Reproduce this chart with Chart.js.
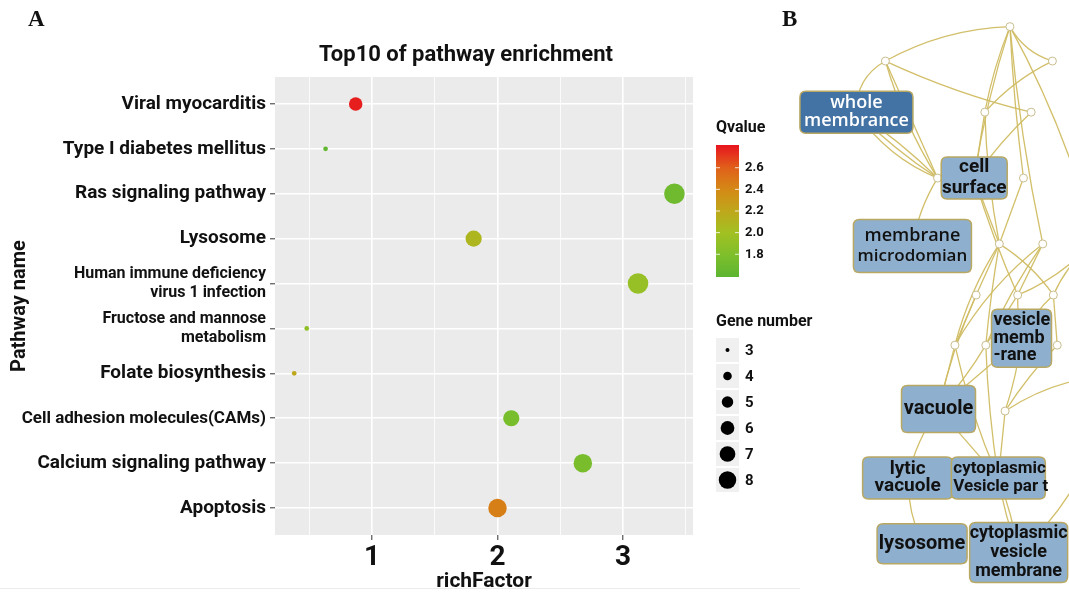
<!DOCTYPE html>
<html>
<head>
<meta charset="utf-8">
<script src="https://cdn.jsdelivr.net/npm/chart.js@4.4.1/dist/chart.umd.min.js"></script>
<style>
  html, body { margin: 0; padding: 0; background: #fff; }
  body { width: 1069px; height: 594px; position: relative; overflow: hidden; }
  #chartA { position: absolute; left: 0; top: 0; }
  #chartB { position: absolute; left: 780px; top: 0; }
  .panel { position: absolute; font-family: 'Liberation Serif', 'Times New Roman', serif; font-weight: bold; font-size: 23px; color: #111; }
  #bottomLine { position: absolute; left: 0; top: 588px; width: 800px; height: 1px; background: #ececec; }
</style>
</head>
<body>
<canvas id="chartA" width="820" height="594"></canvas>
<canvas id="chartB" width="289" height="594"></canvas>
<div class="panel" style="left:28px;top:6px;">A</div>
<div class="panel" style="left:782px;top:6px;">B</div>
<div id="bottomLine"></div>
<script>
// ---- panel A data ----
const pathways = [
    "Viral myocarditis",
    "Type I diabetes mellitus",
    "Ras signaling pathway",
    "Lysosome",
    ["Human immune deficiency", "virus 1 infection"],
    ["Fructose and mannose", "metabolism"],
    "Folate biosynthesis",
    "Cell adhesion molecules(CAMs)",
    "Calcium signaling pathway",
    "Apoptosis"
];
const richFactor = [0.87, 0.63, 3.41, 1.81, 3.12, 0.48, 0.38, 2.11, 2.68, 2.00];
const qvalue     = [2.78, 1.63, 1.70, 2.08, 1.93, 1.89, 2.20, 1.75, 1.76, 2.45];
const geneNumber = [5, 3, 8, 6, 8, 3, 3, 6, 7, 7];
const xTicks = [1, 2, 3];
const qTicks = [1.8, 2.0, 2.2, 2.4, 2.6];
const geneTicks = [3, 4, 5, 6, 7, 8];

// ---- panel B data (GO network) ----
const nodeIds = ["n1","n2","n3","n4","n5","n6","n7","n8","n9","n10","n11","n12","n13","n14","n15","n16"];
const nodeX = [1013, 884, 1057, 987, 1035, 938, 1027, 1002, 1047, 978, 1021, 1058, 956, 988, 1062, 1008];
const nodeY = [22, 57, 57, 109, 109, 176, 176, 243, 243, 295, 295, 295, 346, 346, 346, 413];
const edgeIds = ["x1", "x2", "x3", "x4"];
const edgeX = [1090, 1090, 1090, 1090];
const edgeY = [200, 250, 380, 470];
const boxIds = ["WM", "CS", "MM", "VM", "VA", "LV", "CV", "LY", "CM"];
const boxLabels = [
    ["whole", "membrance"],
    ["cell", "surface"],
    ["membrane", "microdomian"],
    ["vesicle", "memb", "-rane"],
    ["vacuole"],
    ["lytic", "vacuole"],
    ["cytoplasmic", "Vesicle par t"],
    ["lysosome"],
    ["cytoplasmic", "vesicle", "membrane"]
];
const boxX = [854, 976, 912, 1025, 939, 907, 1001, 922, 1022];
const boxY = [109, 176, 245, 339, 411, 481, 481, 548, 557];
const links = [
    ["n1","n2"], ["n1","n3"], ["n1","n4"], ["n1","CS"], ["n1","n7"], ["n1","n9"], ["n1","x1"],
    ["n2","n5"], ["n2","n6"], ["n2","n6"], ["n2","WM"], ["WM","n6"], ["WM","n6"], ["WM","n6"],
    ["n3","n4"], ["n4","CS"], ["n4","n8"], ["n5","CS"], ["n6","MM"], ["n7","n8"], ["CS","n8"],
    ["CS","n11"], ["n8","n10"], ["n8","n13"], ["n8","n14"], ["n8","n12"], ["n9","n11"], ["n9","n13"],
    ["n9","n14"], ["x2","n12"], ["x2","n11"], ["n10","n13"], ["n10","VA"], ["n11","n14"], ["n11","VM"],
    ["n12","n15"], ["n12","VM"], ["n13","VA"], ["n14","VA"], ["n14","CV"], ["n15","n16"], ["VM","VA"],
    ["VM","n16"], ["n16","CV"], ["VA","LV"], ["VA","CV"], ["CV","CM"], ["CV","CM"], ["LV","LY"],
    ["x3","n16"], ["x4","CM"], ["n13","CV"], ["n6","CS"]
];

// ---- styles / layout ----
const FONT = "'Liberation Sans Narrow', 'Arial Narrow', Roboto, sans-serif";
const qMin = 1.59, qMax = 2.81;
const qStops = [
    [0, [92, 181, 49]], [0.17, [127, 191, 43]], [0.34, [163, 192, 33]], [0.5, [191, 167, 27]],
    [0.66, [212, 138, 22]], [0.83, [224, 95, 26]], [1, [232, 19, 31]]
];
const linkBend = [0.12, 0.2, 0.05, 0.04, 0.02, 0.03, -0.05, 0.05, 0, 0.07, 0.3, 0.05, -0.05, 0.15,
    0.1, 0, 0.04, 0.05, 0.1, 0, 0, 0.03, 0, 0.08, 0.02, -0.1, 0, 0.1, 0.05, 0.1, -0.1, 0, 0.05, 0,
    0.05, 0, 0.1, 0, -0.05, 0.03, 0.05, 0, -0.05, 0, 0.1, 0, 0.05, -0.05, 0.1, 0.1, -0.1, 0.05, 0.1];
const boxW = [113, 66, 118, 60, 74, 90, 94, 90, 98];
const boxH = [42, 42, 53, 58, 47, 42, 42, 40, 60];
const boxLine = [18, 21, 20, 17.5, 20, 17, 18, 20, 19];
const boxSize = [18, 19, 18, 18, 20, 19, 17, 20, 18];

function qColor(q) {
    let t = Math.min(1, Math.max(0, (q - qMin) / (qMax - qMin)));
    for (let i = 1; i < qStops.length; i++) {
        if (t <= qStops[i][0]) {
            let a = qStops[i - 1], b = qStops[i];
            let f = (t - a[0]) / (b[0] - a[0]);
            let c = a[1].map((v, k) => Math.round(v + (b[1][k] - v) * f));
            return "rgb(" + c.join(",") + ")";
        }
    }
    return "rgb(232,19,31)";
}

// point area grows linearly with gene number
function geneRadius(g) {
    return 0.5 * Math.sqrt(22 + (g - 3) / 5 * 400);
}

const panelPlugin = {
    id: "panel",
    beforeDraw(chart) {
        let { ctx, chartArea: a } = chart;
        ctx.save();
        ctx.fillStyle = "#ebebeb";
        ctx.fillRect(a.left, a.top, a.right - a.left, a.bottom - a.top);
        ctx.restore();
    },
    afterDraw(chart) {
        let ctx = chart.ctx;
        ctx.save();
        ctx.fillStyle = "#111";
        ctx.textBaseline = "middle";
        ctx.textAlign = "center";
        ctx.font = "bold 22px " + FONT;
        ctx.fillText("Top10 of pathway enrichment", 466, 55);

        // Qvalue colour bar
        ctx.textAlign = "left";
        ctx.font = "bold 16px " + FONT;
        ctx.fillText("Qvalue", 716, 128);
        let top = 145, bottom = 277, left = 716, w = 23;
        let grad = ctx.createLinearGradient(0, bottom, 0, top);
        qStops.forEach(s => grad.addColorStop(s[0], "rgb(" + s[1].join(",") + ")"));
        ctx.fillStyle = grad;
        ctx.fillRect(left, top, w, bottom - top);
        ctx.font = "bold 13px " + FONT;
        qTicks.forEach(v => {
            let y = bottom - (v - qMin) / (qMax - qMin) * (bottom - top);
            ctx.strokeStyle = "rgba(255,255,255,0.8)";
            ctx.lineWidth = 1;
            ctx.beginPath();
            ctx.moveTo(left, y); ctx.lineTo(left + 4, y);
            ctx.moveTo(left + w - 4, y); ctx.lineTo(left + w, y);
            ctx.stroke();
            ctx.fillStyle = "#111";
            ctx.fillText(v.toFixed(1), left + w + 6, y);
        });

        // Gene number size keys
        ctx.font = "bold 16px " + FONT;
        ctx.fillText("Gene number", 716, 322);
        ctx.font = "bold 15px " + FONT;
        geneTicks.forEach((g, i) => {
            let cy = 350 + i * 26;
            ctx.fillStyle = "#f0f0f0";
            ctx.fillRect(716, cy - 12, 23, 24);
            ctx.fillStyle = "#000";
            ctx.beginPath();
            ctx.arc(727.5, cy, geneRadius(g) * 0.85, 0, Math.PI * 2);
            ctx.fill();
            ctx.fillStyle = "#111";
            ctx.fillText(String(g), 745, cy + 1);
        });
        ctx.restore();
    }
};

new Chart(document.getElementById("chartA"), {
    type: "scatter",
    data: {
        datasets: [{
            data: richFactor.map((x, i) => ({ x: x, y: i })),
            pointRadius: c => geneRadius(geneNumber[c.dataIndex]),
            pointHoverRadius: c => geneRadius(geneNumber[c.dataIndex]),
            pointBackgroundColor: c => qColor(qvalue[c.dataIndex]),
            pointBorderWidth: 0
        }]
    },
    options: {
        responsive: false,
        animation: false,
        events: [],
        layout: { padding: { top: 77, right: 127, bottom: 0, left: 0 } },
        plugins: { legend: { display: false }, tooltip: { enabled: false }, title: { display: false } },
        scales: {
            x: {
                type: "linear",
                min: 0.227,
                max: 3.558,
                afterFit: s => { s.height = 59; },
                border: { display: false },
                grid: {
                    color: "#fff",
                    lineWidth: c => (c.tick && Number.isInteger(c.tick.value)) ? 1.6 : 0.8,
                    tickColor: c => (c.tick && Number.isInteger(c.tick.value)) ? "#333" : "rgba(0,0,0,0)",
                    tickLength: 5,
                    tickWidth: 1
                },
                ticks: {
                    stepSize: 0.5,
                    includeBounds: false,
                    autoSkip: false,
                    maxRotation: 0,
                    callback: v => xTicks.includes(v) ? String(v) : "",
                    color: "#111",
                    font: { family: FONT, weight: "bold", size: 28 },
                    padding: 1
                },
                title: {
                    display: true,
                    text: "richFactor",
                    color: "#111",
                    font: { family: FONT, weight: "bold", size: 21 },
                    padding: { top: 0, bottom: 0 }
                }
            },
            y: {
                type: "linear",
                min: -0.6,
                max: 9.6,
                reverse: true,
                afterFit: s => { s.width = 275; },
                border: { display: false },
                grid: { color: "#fff", lineWidth: 1.6, tickColor: "#333", tickLength: 5, tickWidth: 1 },
                ticks: {
                    stepSize: 1,
                    includeBounds: false,
                    autoSkip: false,
                    callback: v => pathways[v],
                    color: "#111",
                    font: c => {
                        let p = c.tick ? pathways[c.tick.value] : "";
                        let size = Array.isArray(p) ? 16 : (p && p.length > 25 ? 17 : 19);
                        return { family: FONT, weight: "bold", size: size };
                    },
                    padding: 4
                },
                title: {
                    display: true,
                    text: "Pathway name",
                    color: "#111",
                    font: { family: FONT, weight: "bold", size: 20 },
                    padding: { top: 8, bottom: 0 }
                }
            }
        }
    },
    plugins: [panelPlugin]
});

// ---- panel B ----
function findPos(id) {
    let i = nodeIds.indexOf(id);
    if (i >= 0) return [nodeX[i], nodeY[i]];
    i = boxIds.indexOf(id);
    if (i >= 0) return [boxX[i], boxY[i]];
    i = edgeIds.indexOf(id);
    return [edgeX[i], edgeY[i]];
}

function roundBox(ctx, x, y, w, h, r) {
    ctx.beginPath();
    ctx.moveTo(x + r, y);
    ctx.lineTo(x + w - r, y);
    ctx.quadraticCurveTo(x + w, y, x + w, y + r);
    ctx.lineTo(x + w, y + h - r);
    ctx.quadraticCurveTo(x + w, y + h, x + w - r, y + h);
    ctx.lineTo(x + r, y + h);
    ctx.quadraticCurveTo(x, y + h, x, y + h - r);
    ctx.lineTo(x, y + r);
    ctx.quadraticCurveTo(x, y, x + r, y);
    ctx.closePath();
}

const networkPlugin = {
    id: "network",
    beforeDatasetsDraw(chart) {
        let { ctx, scales: { x, y } } = chart;
        ctx.save();
        ctx.strokeStyle = "rgba(208,188,98,0.95)";
        ctx.lineWidth = 1.3;
        links.forEach((l, i) => {
            let a = findPos(l[0]), b = findPos(l[1]);
            let x1 = x.getPixelForValue(a[0]), y1 = y.getPixelForValue(a[1]);
            let x2 = x.getPixelForValue(b[0]), y2 = y.getPixelForValue(b[1]);
            let dx = x2 - x1, dy = y2 - y1;
            let bend = linkBend[i] || 0;
            let cx = (x1 + x2) / 2 - dy * bend, cy = (y1 + y2) / 2 + dx * bend;
            ctx.beginPath();
            ctx.moveTo(x1, y1);
            ctx.quadraticCurveTo(cx, cy, x2, y2);
            ctx.stroke();
        });
        ctx.restore();
    },
    afterDatasetsDraw(chart) {
        let { ctx, scales: { x, y } } = chart;
        ctx.save();
        boxIds.forEach((id, i) => {
            let cx = x.getPixelForValue(boxX[i]), cy = y.getPixelForValue(boxY[i]);
            let w = boxW[i], h = boxH[i];
            roundBox(ctx, cx - w / 2, cy - h / 2, w, h, 6);
            ctx.fillStyle = id === "WM" ? "#4373a4" : "#8eafcd";
            ctx.fill();
            ctx.strokeStyle = "#b9a862";
            ctx.lineWidth = 1.5;
            ctx.stroke();
            let lines = boxLabels[i];
            let open = id === "WM" || id === "MM";
            ctx.fillStyle = id === "WM" ? "#fff" : "#111";
            ctx.textBaseline = "middle";
            let leftAlign = id === "VM" || id === "CV";
            ctx.textAlign = leftAlign ? "left" : "center";
            let tx = leftAlign ? cx - w / 2 + 2 : cx;
            lines.forEach((t, k) => {
                let size = boxSize[i];
                if (id === "MM" && k === 1) size = 17;
                ctx.font = (open ? "600 " + size + "px 'Open Sans', sans-serif" : "bold " + size + "px " + FONT);
                let ty = cy + (k - (lines.length - 1) / 2) * boxLine[i];
                ctx.fillText(t, tx, ty);
            });
        });
        ctx.restore();
    }
};

new Chart(document.getElementById("chartB"), {
    type: "scatter",
    data: {
        datasets: [{
            data: nodeX.map((v, i) => ({ x: v, y: nodeY[i] })),
            pointRadius: 4,
            pointHoverRadius: 4,
            pointBackgroundColor: "#fff",
            pointBorderColor: "#c9bd8e",
            pointBorderWidth: 1
        }]
    },
    options: {
        responsive: false,
        animation: false,
        events: [],
        layout: { padding: 0 },
        plugins: { legend: { display: false }, tooltip: { enabled: false } },
        scales: {
            x: { type: "linear", min: 780, max: 1069, display: false },
            y: { type: "linear", min: 0, max: 594, reverse: true, display: false }
        }
    },
    plugins: [networkPlugin]
});
</script>
</body>
</html>
